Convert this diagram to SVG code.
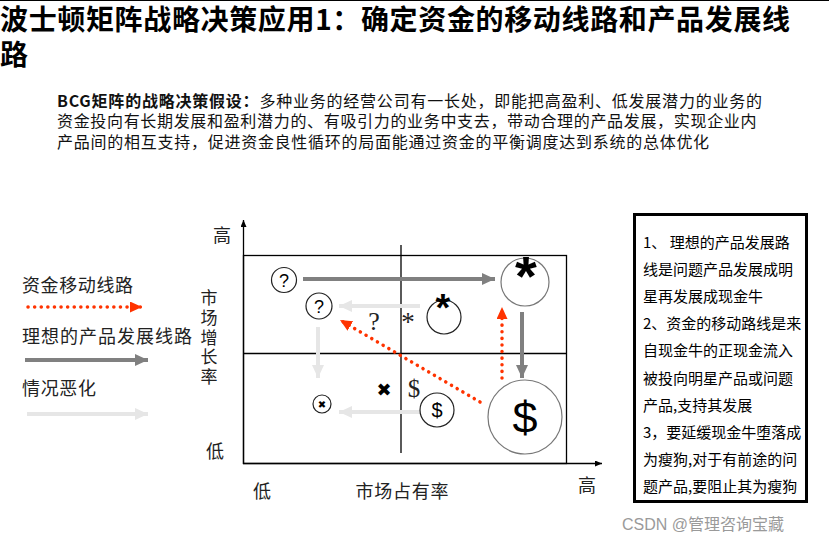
<svg xmlns="http://www.w3.org/2000/svg" width="829" height="543" viewBox="0 0 829 543">
<defs>
<style>
.cjk{font-family:"Noto Sans CJK SC","Noto Sans",sans-serif;fill:#111}
.title{font-size:28px;font-weight:bold;fill:#000}
.para{font-size:16px}
.lg{font-size:18px;fill:#222}
.vt{font-size:17px;fill:#222}
.bx{font-size:15px;fill:#000}
.sans{font-family:"Liberation Sans",Arial,sans-serif;fill:#000}
.serif{font-family:"Liberation Serif","Times New Roman",serif;fill:#222}
.dk{stroke:#808080;stroke-width:4;fill:none}
.lt{stroke:#e6e6e6;stroke-width:4;fill:none}
.rd{stroke:#ff3300;stroke-width:3.5;fill:none;stroke-linecap:round;stroke-dasharray:0.1 6.5}
.ax{stroke:#000;stroke-width:1.3;fill:none}
.bigc{fill:#fff;stroke:#777;stroke-width:1.2}
.smc{fill:#fff;stroke:#222;stroke-width:1.2}
</style>
<marker id="hd" markerUnits="userSpaceOnUse" viewBox="0 0 13 12" refX="13" refY="6" markerWidth="13" markerHeight="12" orient="auto"><path d="M0,0 L13,6 L0,12 Z" fill="#808080"/></marker>
<marker id="hl" markerUnits="userSpaceOnUse" viewBox="0 0 13 12" refX="13" refY="6" markerWidth="13" markerHeight="12" orient="auto"><path d="M0,0 L13,6 L0,12 Z" fill="#e6e6e6"/></marker>
<marker id="hr" markerUnits="userSpaceOnUse" viewBox="0 0 12 11" refX="12" refY="5.5" markerWidth="12" markerHeight="11" orient="auto"><path d="M0,0 L12,5.5 L0,11 Z" fill="#ff3300"/></marker>
<marker id="hk" markerUnits="userSpaceOnUse" viewBox="0 0 7 6" refX="7" refY="3" markerWidth="7" markerHeight="6" orient="auto"><path d="M0,0 L7,3 L0,6 Z" fill="#000"/></marker>
</defs>
<rect width="829" height="543" fill="#fff"/>
<line x1="0" y1="0.5" x2="829" y2="0.5" stroke="#000" stroke-width="1"/>

<g id="title">
<text class="cjk title"><tspan x="0" y="30" letter-spacing="0.65">波士顿矩阵战略决策应用1：确定资金的移动线路和产品发展线</tspan><tspan x="0" y="65">路</tspan></text>
</g>

<g id="intro">
<text class="cjk para"><tspan x="57" y="107" letter-spacing="0.78"><tspan font-weight="bold">BCG矩阵的战略决策假设：</tspan>多种业务的经营公司有一长处，即能把高盈利、低发展潜力的业务的</tspan><tspan x="57" y="127" letter-spacing="0.67">资金投向有长期发展和盈利潜力的、有吸引力的业务中支去，带动合理的产品发展，实现企业内</tspan><tspan x="57" y="148" letter-spacing="0.74">产品间的相互支持，促进资金良性循环的局面能通过资金的平衡调度达到系统的总体优化</tspan></text>
</g>

<g id="legend">
<text class="cjk lg" x="22" y="292" textLength="111">资金移动线路</text>
<line class="rd" x1="28" y1="307" x2="142" y2="307" marker-end="url(#hr)"/>
<text class="cjk lg" x="22" y="343" textLength="170">理想的产品发展线路</text>
<line class="dk" x1="25" y1="360" x2="148" y2="360" marker-end="url(#hd)"/>
<text class="cjk lg" x="22" y="395" textLength="74">情况恶化</text>
<line class="lt" x1="27" y1="414" x2="148" y2="414" marker-end="url(#hl)"/>
</g>

<g id="axes">
<line class="ax" x1="243.5" y1="464" x2="243.5" y2="220" marker-end="url(#hk)"/>
<line class="ax" x1="243" y1="463.5" x2="602" y2="463.5" marker-end="url(#hk)"/>
<rect x="243.5" y="255.5" width="323" height="208" fill="none" stroke="#000" stroke-width="1.3"/>
<line class="ax" x1="243" y1="353.5" x2="566.5" y2="353.5"/>
<line class="ax" x1="401" y1="245" x2="401" y2="453"/>
<text class="cjk lg" x="222" y="242" text-anchor="middle">高</text>
<text class="cjk lg" x="215" y="458" text-anchor="middle">低</text>
<text class="cjk vt" x="209" y="289" writing-mode="vertical-rl" letter-spacing="2.8">市场增长率</text>
<text class="cjk lg" x="262" y="498" text-anchor="middle">低</text>
<text class="cjk lg" x="402" y="498" text-anchor="middle" textLength="93">市场占有率</text>
<text class="cjk lg" x="587" y="492" text-anchor="middle">高</text>
</g>

<g id="connectors">
<line class="dk" x1="303" y1="279" x2="495" y2="279" marker-end="url(#hd)"/>
<line class="lt" x1="420" y1="306" x2="339" y2="306" marker-end="url(#hl)"/>
<line class="lt" x1="318" y1="327" x2="318" y2="378" marker-end="url(#hl)"/>
<line class="lt" x1="420" y1="412" x2="339" y2="412" marker-end="url(#hl)"/>
<line class="dk" x1="522" y1="312" x2="522" y2="378" marker-end="url(#hd)"/>
<line class="rd" x1="480" y1="402" x2="340" y2="320" marker-end="url(#hr)"/>
<line class="rd" x1="502" y1="378" x2="502" y2="307" marker-end="url(#hr)"/>
</g>

<g id="q1">
<circle class="smc" cx="284" cy="280" r="12.5"/>
<text class="sans" x="284" y="286.5" font-size="18" text-anchor="middle">?</text>
</g>
<g id="q2">
<circle class="smc" cx="319" cy="306" r="13"/>
<text class="sans" x="319" y="312.5" font-size="18" text-anchor="middle">?</text>
</g>
<g id="star-big">
<circle class="bigc" cx="525" cy="282" r="24"/>
<text class="sans" x="526" y="295" font-size="56" font-weight="bold" text-anchor="middle">*</text>
</g>
<g id="star-small">
<circle class="smc" cx="444" cy="317" r="17"/>
<text class="sans" x="443" y="321" font-size="38" font-weight="bold" text-anchor="middle">*</text>
</g>
<g id="marks">
<text class="serif" x="374" y="330" font-size="26" text-anchor="middle">?</text>
<text class="serif" x="408" y="331" font-size="27" text-anchor="middle">*</text>
<text class="serif" x="414" y="397" font-size="25" text-anchor="middle">$</text>
<text x="384" y="396" font-family="DejaVu Sans,sans-serif" font-size="18" text-anchor="middle" fill="#000">✖</text>
</g>
<g id="cash-small">
<circle class="smc" cx="437" cy="410" r="17"/>
<text class="sans" x="437" y="417" font-size="20" text-anchor="middle">$</text>
</g>
<g id="cash-big">
<circle class="bigc" cx="525" cy="417" r="37"/>
<text class="sans" x="525" y="433" font-size="45" text-anchor="middle">$</text>
</g>
<g id="dog">
<circle class="smc" cx="322" cy="404" r="9"/>
<text x="322" y="408" font-family="DejaVu Sans,sans-serif" font-size="10" text-anchor="middle" fill="#000">✖</text>
</g>

<g id="notes">
<rect x="634.5" y="214.5" width="172" height="287" fill="#fff" stroke="#000" stroke-width="3"/>
<g class="cjk bx">
<text x="643" y="247.5">1、 理想的产品发展路</text>
<text x="643" y="274.7">线是问题产品发展成明</text>
<text x="643" y="301.9">星再发展成现金牛</text>
<text x="643" y="329.1">2、资金的移动路线是来</text>
<text x="643" y="356.3">自现金牛的正现金流入</text>
<text x="643" y="383.5">被投向明星产品或问题</text>
<text x="643" y="410.7">产品,支持其发展</text>
<text x="643" y="437.9">3，要延缓现金牛堕落成</text>
<text x="643" y="465.1">为瘦狗,对于有前途的问</text>
<text x="643" y="492.3">题产品,要阻止其为瘦狗</text>
</g>
</g>

<text x="622" y="530" font-family="Liberation Sans,'Noto Sans CJK SC',sans-serif" font-size="16" fill="#9a9a9a">CSDN @管理咨询宝藏</text>
</svg>
